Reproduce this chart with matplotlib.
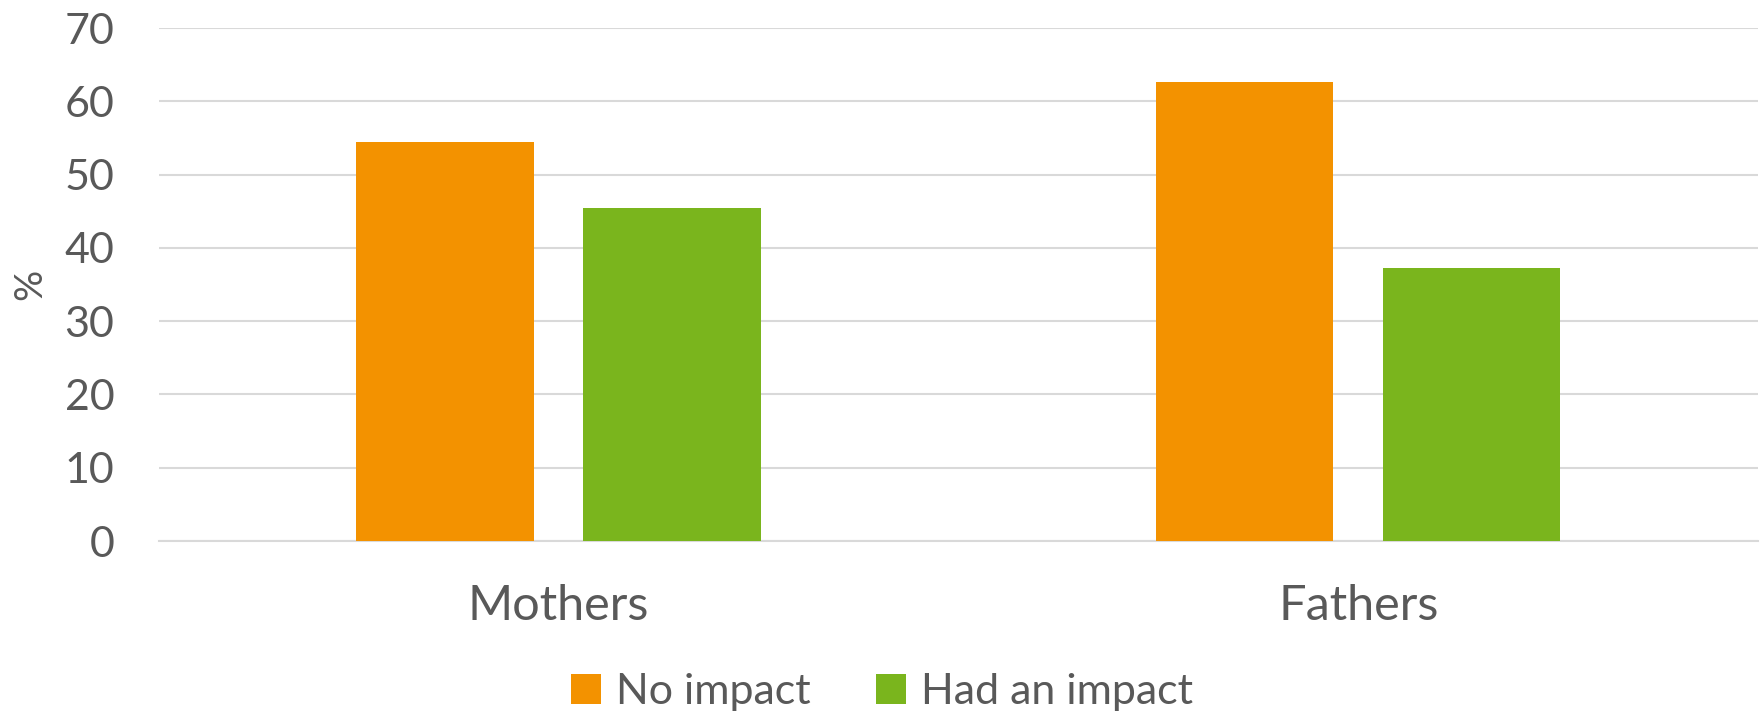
import numpy as np
import matplotlib
matplotlib.use('Agg')
import matplotlib.pyplot as plt

categories = ['Mothers', 'Fathers']
series = ['No impact', 'Had an impact']
no_impact = [54.5, 62.7]
had_impact = [45.5, 37.3]
colors = ['#F39200', '#7AB51D']
yticks = [0, 10, 20, 30, 40, 50, 60, 70]

plt.rcParams['font.family'] = ['Lato', 'DejaVu Sans']
gray = '#595959'

fig = plt.figure(figsize=(17.64, 7.18), dpi=100)
ax = fig.add_axes([0.090, 0.2465, 0.9066, 0.7145])

x = np.arange(len(categories))
w = 0.222
off = 0.142
ax.bar(x - off, no_impact, w, color=colors[0], label=series[0], zorder=3)
ax.bar(x + off, had_impact, w, color=colors[1], label=series[1], zorder=3)

ax.set_xlim(-0.5, 1.5)
ax.set_ylim(0, 70)
ax.set_yticks(yticks)
ax.set_xticks(x)
ax.set_xticklabels(categories)
ax.yaxis.grid(True, color='#d9d9d9', linewidth=1.5, zorder=0)
ax.set_axisbelow(True)
for s in ['top', 'right', 'left']:
    ax.spines[s].set_visible(False)
ax.spines['bottom'].set_color('#d9d9d9')
ax.spines['bottom'].set_linewidth(1.5)
ax.tick_params(axis='y', length=0, pad=32, labelsize=31, labelcolor=gray)
ax.tick_params(axis='x', length=0, pad=31, labelsize=35, labelcolor=gray)
ax.set_ylabel('%', fontsize=28, color=gray, labelpad=12)

fig.legend(loc='center', bbox_to_anchor=(0.5, 0.036), ncol=2, frameon=False,
           fontsize=31, labelcolor=gray, handlelength=0.7, handleheight=0.7,
           handletextpad=0.35, columnspacing=1.5)

fig.savefig('out.png', dpi=100)
